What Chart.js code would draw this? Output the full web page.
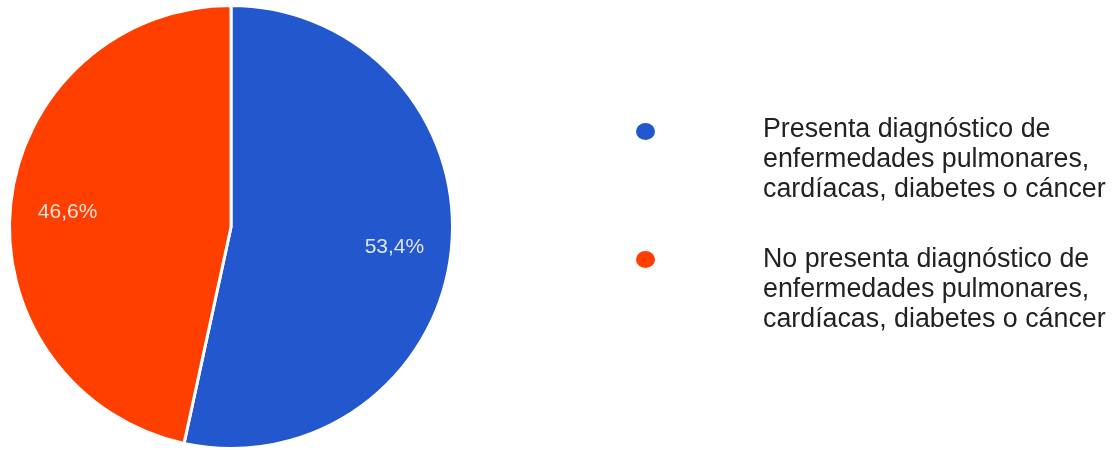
<!DOCTYPE html>
<html>
<head>
<meta charset="utf-8">
<script src="https://cdn.jsdelivr.net/npm/chart.js@4"></script>
<style>
  body { margin: 0; background: #fff; }
  #wrap { position: relative; width: 1112px; height: 450px; }
  #legend { position: absolute; left: 0; top: 0; font-family: "Liberation Sans", Arial, sans-serif; color: #222; }
  .item { position: absolute; left: 763px; font-size: 26.8px; line-height: 30px; white-space: nowrap; }
  .dot { position: absolute; width: 19px; height: 17px; border-radius: 50%; }
</style>
</head>
<body>
<div id="wrap">
  <canvas id="chart" width="1112" height="450"></canvas>
  <div id="legend"></div>
</div>
<script>
const labels = [
  ['Presenta diagnóstico de', 'enfermedades pulmonares,', 'cardíacas, diabetes o cáncer'],
  ['No presenta diagnóstico de', 'enfermedades pulmonares,', 'cardíacas, diabetes o cáncer']
];
const values = [53.4, 46.6];
const colors = ['#2357CD', '#FF3F00'];

// percent labels drawn inside the slices
const sliceLabels = {
  id: 'sliceLabels',
  afterDatasetsDraw(chart) {
    const ctx = chart.ctx;
    const meta = chart.getDatasetMeta(0);
    ctx.save();
    ctx.font = '21px "Liberation Sans", Arial, sans-serif';
    ctx.textAlign = 'center';
    ctx.textBaseline = 'middle';
    ctx.fillStyle = 'rgba(255,255,255,0.85)';
    meta.data.forEach((arc, i) => {
      const p = arc.getProps(['x', 'y', 'startAngle', 'endAngle', 'outerRadius'], true);
      const mid = (p.startAngle + p.endAngle) / 2;
      const r = p.outerRadius * 0.742;
      const txt = values[i].toFixed(1).replace('.', ',') + '%';
      ctx.fillText(txt, p.x + Math.cos(mid) * r, p.y + Math.sin(mid) * r + 3);
    });
    ctx.restore();
  }
};

new Chart(document.getElementById('chart'), {
  type: 'pie',
  data: {
    labels,
    datasets: [{
      data: values,
      backgroundColor: colors,
      borderColor: '#fff',
      borderWidth: 3,
      hoverOffset: 0
    }]
  },
  options: {
    responsive: false,
    animation: false,
    layout: { padding: { left: 8, right: 658, top: 4, bottom: 0 } },
    plugins: {
      legend: { display: false },
      tooltip: { enabled: false }
    }
  },
  plugins: [sliceLabels]
});

// legend on the right
const legend = document.getElementById('legend');
const tops = [113, 243];
const dotTops = [123, 251];
labels.forEach((lines, i) => {
  const dot = document.createElement('div');
  dot.className = 'dot';
  dot.style.left = '636px';
  dot.style.top = dotTops[i] + 'px';
  dot.style.background = colors[i];
  legend.appendChild(dot);
  const item = document.createElement('div');
  item.className = 'item';
  item.style.top = tops[i] + 'px';
  item.innerHTML = lines.join('<br>');
  legend.appendChild(item);
});
</script>
</body>
</html>
